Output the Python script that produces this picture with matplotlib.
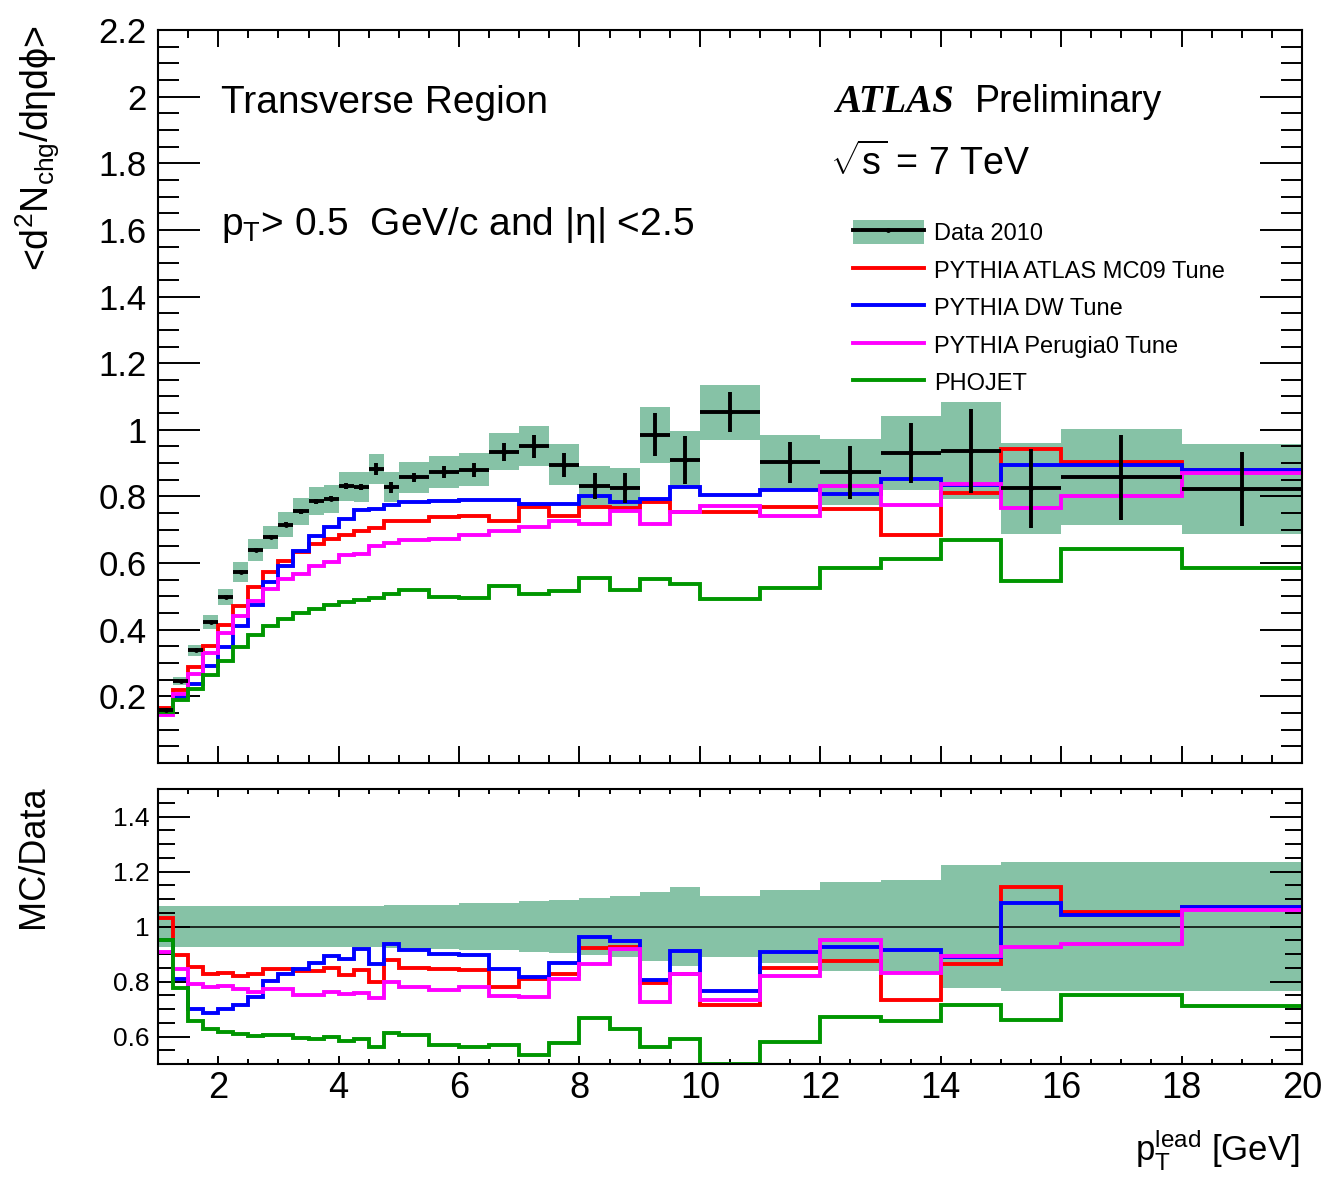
import numpy as np
import matplotlib
matplotlib.use('Agg')
import matplotlib.pyplot as plt
from matplotlib.ticker import MultipleLocator, FuncFormatter
from matplotlib.patches import Patch
from matplotlib.lines import Line2D

plt.rcParams['font.family'] = ['Liberation Sans', 'DejaVu Sans']
plt.rcParams['mathtext.fontset'] = 'custom'
plt.rcParams['mathtext.rm'] = 'Liberation Sans'
plt.rcParams['mathtext.it'] = 'Liberation Sans:italic'
plt.rcParams['mathtext.sf'] = 'Liberation Sans'

# bin edges in p_T^lead [GeV]
edges = [1.0, 1.25, 1.5, 1.75, 2.0, 2.25, 2.5, 2.75, 3.0, 3.25, 3.5, 3.75,
         4.0, 4.25, 4.5, 4.75, 5.0, 5.5, 6.0, 6.5, 7.0, 7.5, 8.0, 8.5, 9.0,
         9.5, 10, 11, 12, 13, 14, 15, 16, 18, 20]

data = [0.160, 0.245, 0.338, 0.423, 0.498, 0.573, 0.638, 0.677, 0.715, 0.755,
        0.785, 0.793, 0.830, 0.827, 0.882, 0.827, 0.857, 0.872, 0.880, 0.934,
        0.950, 0.895, 0.832, 0.825, 0.985, 0.910, 1.053, 0.902, 0.872, 0.930,
        0.937, 0.824, 0.857, 0.822]
stat = [0.003, 0.003, 0.004, 0.004, 0.005, 0.005, 0.006, 0.006, 0.007, 0.007,
        0.008, 0.008, 0.009, 0.009, 0.018, 0.017, 0.014, 0.018, 0.021, 0.027,
        0.035, 0.036, 0.039, 0.044, 0.065, 0.072, 0.060, 0.062, 0.079, 0.091,
        0.126, 0.118, 0.128, 0.112]
syst = [0.005, 0.012, 0.016, 0.022, 0.025, 0.029, 0.033, 0.035, 0.038, 0.040,
        0.042, 0.042, 0.044, 0.045, 0.046, 0.045, 0.047, 0.048, 0.050, 0.055,
        0.060, 0.061, 0.060, 0.060, 0.084, 0.085, 0.083, 0.083, 0.099, 0.112,
        0.145, 0.136, 0.144, 0.136]
# relative uncertainty band shown in the ratio panel
ratio_err = [0.075, 0.075, 0.075, 0.075, 0.075, 0.075, 0.075, 0.075, 0.075, 0.075,
             0.075, 0.075, 0.075, 0.075, 0.075, 0.078, 0.080, 0.080, 0.085, 0.086,
             0.094, 0.095, 0.105, 0.110, 0.126, 0.145, 0.112, 0.132, 0.162, 0.169,
             0.222, 0.236, 0.236, 0.236]

mc09 = [0.165, 0.220, 0.288, 0.350, 0.413, 0.470, 0.527, 0.572, 0.605, 0.632,
        0.658, 0.672, 0.685, 0.695, 0.705, 0.725, 0.727, 0.738, 0.742, 0.727,
        0.767, 0.740, 0.767, 0.764, 0.782, 0.752, 0.752, 0.767, 0.762, 0.683,
        0.810, 0.943, 0.903, 0.880]
dw = [0.152, 0.198, 0.237, 0.290, 0.348, 0.410, 0.475, 0.542, 0.592, 0.637,
      0.682, 0.707, 0.732, 0.760, 0.763, 0.775, 0.783, 0.785, 0.790, 0.789,
      0.777, 0.777, 0.800, 0.782, 0.793, 0.828, 0.805, 0.820, 0.807, 0.852,
      0.834, 0.893, 0.893, 0.880]
perugia0 = [0.145, 0.207, 0.267, 0.330, 0.390, 0.442, 0.485, 0.522, 0.552, 0.568,
            0.590, 0.603, 0.625, 0.628, 0.652, 0.660, 0.670, 0.672, 0.685, 0.697,
            0.708, 0.725, 0.718, 0.757, 0.716, 0.752, 0.772, 0.740, 0.830, 0.773,
            0.836, 0.764, 0.802, 0.870]
phojet = [0.152, 0.190, 0.222, 0.265, 0.307, 0.348, 0.384, 0.410, 0.432, 0.449,
          0.463, 0.473, 0.484, 0.489, 0.494, 0.506, 0.519, 0.497, 0.496, 0.531,
          0.506, 0.517, 0.555, 0.519, 0.552, 0.537, 0.493, 0.524, 0.585, 0.612,
          0.670, 0.545, 0.642, 0.584]

mc_names = ['PYTHIA ATLAS MC09 Tune', 'PYTHIA DW Tune', 'PYTHIA Perugia0 Tune', 'PHOJET']
mc_colors = ['#ff0000', '#0000ff', '#ff00ff', '#009600']
band_col = '#86c2a6'

edges = np.array(edges)
data = np.array(data)
stat = np.array(stat)
syst = np.array(syst)
ratio_err = np.array(ratio_err)
mcs = [np.array(mc09), np.array(dw), np.array(perugia0), np.array(phojet)]
centers = 0.5 * (edges[:-1] + edges[1:])
widths = np.diff(edges)

W, H = 1325, 1178
fig = plt.figure(figsize=(W / 100, H / 100), dpi=100)
ax1 = fig.add_axes([158 / W, 1 - 763 / H, 1144 / W, 733 / H])
ax2 = fig.add_axes([158 / W, 1 - 1064 / H, 1144 / W, 275 / H])

# --- top panel ---
ax1.bar(edges[:-1], 2 * syst, bottom=data - syst, width=widths, align='edge',
        color=band_col, lw=0, zorder=1)
for vals, col in zip(mcs, mc_colors):
    ax1.stairs(vals, edges, baseline=None, color=col, lw=2.8, zorder=3)
ax1.errorbar(centers, data, xerr=widths / 2, yerr=stat, fmt='o', ms=2.5,
             color='black', elinewidth=2.8, capsize=0, zorder=5)
ax1.set_xlim(1, 20)
ax1.set_ylim(0, 2.2)

# --- ratio panel ---
ymin2, ymax2 = 0.5, 1.5
ax2.bar(edges[:-1], 2 * ratio_err, bottom=1 - ratio_err, width=widths, align='edge',
        color=band_col, lw=0, zorder=1)
ax2.axhline(1.0, color='black', lw=1.1, zorder=2)
for vals, col in zip(mcs, mc_colors):
    # out-of-range bins sit on the frame, as ROOT draws them
    ax2.stairs(np.clip(vals / data, ymin2, ymax2), edges, baseline=None,
               color=col, lw=2.8, zorder=3)
ax2.set_xlim(1, 20)
ax2.set_ylim(ymin2, ymax2)

fmt = FuncFormatter(lambda v, p: '' if abs(v) < 1e-9 else '{:g}'.format(round(v, 3)))
for ax in (ax1, ax2):
    ax.xaxis.set_major_locator(MultipleLocator(2))
    ax.xaxis.set_minor_locator(MultipleLocator(0.5))
    ax.yaxis.set_major_locator(MultipleLocator(0.2))
    ax.yaxis.set_minor_locator(MultipleLocator(0.05))
    ax.yaxis.set_major_formatter(fmt)
    ax.xaxis.set_major_formatter(fmt)
    for s in ax.spines.values():
        s.set_linewidth(1.5)
        s.set_zorder(10)

ax1.tick_params(axis='y', which='major', direction='in', length=30, width=1.4,
                left=True, right=True, labelsize=25, pad=8)
ax1.tick_params(axis='y', which='minor', direction='in', length=15, width=1.4,
                left=True, right=True)
ax1.tick_params(axis='x', which='major', direction='in', length=12, width=1.4,
                bottom=True, top=True, labelbottom=False)
ax1.tick_params(axis='x', which='minor', direction='in', length=6, width=1.4,
                bottom=True, top=True)

ax2.tick_params(axis='y', which='major', direction='in', length=23, width=1.4,
                left=True, right=True, labelsize=19, pad=6)
ax2.tick_params(axis='y', which='minor', direction='in', length=12, width=1.4,
                left=True, right=True)
ax2.tick_params(axis='x', which='major', direction='in', length=6, width=1.4,
                bottom=True, top=True, labelsize=26, pad=5)
ax2.tick_params(axis='x', which='minor', direction='in', length=3.5, width=1.4,
                bottom=True, top=True)

# axis titles
fig.text(38 / W, 1 - 25 / H, r'<d$\mathregular{^{2}}$N$\mathregular{_{chg}}$/dηdϕ>',
         rotation=90, ha='center', va='top', fontsize=27)
fig.text(34 / W, 1 - 785 / H, 'MC/Data', rotation=90, ha='center', va='top',
         fontsize=26)
fig.text(1300 / W, 1 - 1160 / H, r'$\mathregular{p_{T}^{lead}}$ [GeV]',
         ha='right', va='baseline', fontsize=25)

# labels inside top panel
fig.text(221 / W, 1 - 113 / H, 'Transverse Region', ha='left', va='baseline',
         fontsize=28)
fig.text(221 / W, 1 - 235 / H, r'$\mathregular{p_{T}}$> 0.5  GeV/c and |η| <2.5',
         ha='left', va='baseline', fontsize=28)
fig.text(835 / W, 1 - 112 / H, 'ATLAS', ha='left', va='baseline', fontsize=28,
         family='Liberation Serif', weight='bold', style='italic')
fig.text(975 / W, 1 - 112 / H, 'Preliminary', ha='left', va='baseline', fontsize=27)
fig.text(830 / W, 1 - 175 / H, r'$\mathregular{\sqrt{s}}$ = 7 TeV', ha='left',
         va='baseline', fontsize=27)

# legend
handles = [(Patch(facecolor=band_col, lw=0),
            Line2D([], [], color='black', lw=2.8, marker='o', ms=2.5))]
handles += [Line2D([], [], color=c, lw=2.8) for c in mc_colors]
labels = ['Data 2010'] + mc_names
fig.legend(handles, labels, loc='upper left', bbox_to_anchor=(853 / W, 1 - 220 / H),
           frameon=False, fontsize=17, handlelength=3.0, handleheight=1.2,
           handletextpad=0.45, labelspacing=0.53, borderpad=0, borderaxespad=0)

fig.savefig('out.png', dpi=100)
